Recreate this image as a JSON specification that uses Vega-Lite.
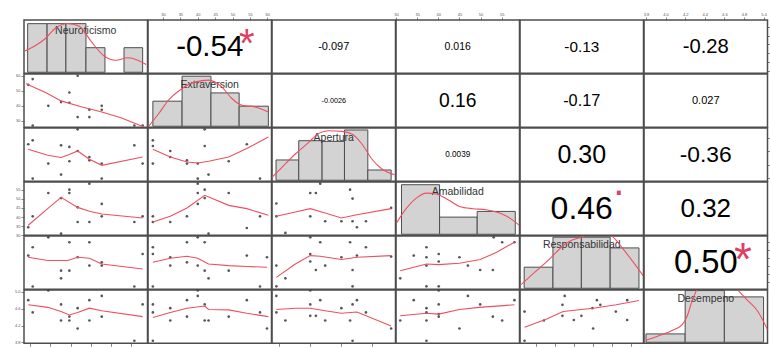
{
"$schema":"https://vega.github.io/schema/vega-lite/v6.json",
"background":"white",
"padding":{"left":13,"top":11,"right":0,"bottom":0},
"config":{"view":{"stroke":"#4d4d4d","strokeWidth":1.5},"axis":{"labelFontSize":4,"labelFont":"Liberation Sans","tickSize":3,"domain":false,"grid":false,"labelColor":"#555","tickColor":"#555","labelPadding":1,"tickWidth":0.7,"labelOverlap":false,"labelFlush":false},"text":{"font":"Liberation Sans"}},
"datasets":{
"pts":[
{"p":"21","x":21.3,"y":57.8},{"p":"21","x":19.1,"y":54.0},{"p":"21","x":43.5,"y":60.0},{"p":"21","x":29.0,"y":40.0},{"p":"21","x":35.3,"y":42.5},{"p":"21","x":39.4,"y":48.9},{"p":"21","x":39.4,"y":42.0},{"p":"21","x":43.5,"y":32.5},{"p":"21","x":49.3,"y":37.4},{"p":"21","x":49.3,"y":32.5},{"p":"21","x":55.4,"y":40.0},{"p":"21","x":55.4,"y":37.4},{"p":"21","x":21.3,"y":26.9},{"p":"21","x":71.5,"y":26.9},{"p":"21","x":75.6,"y":26.9},
{"p":"31","x":19.1,"y":55.3},{"p":"31","x":21.3,"y":58.2},{"p":"31","x":29.0,"y":40.9},{"p":"31","x":35.3,"y":54.5},{"p":"31","x":35.3,"y":32.7},{"p":"31","x":39.4,"y":53.3},{"p":"31","x":39.4,"y":42.6},{"p":"31","x":43.5,"y":66.4},{"p":"31","x":43.5,"y":50.3},{"p":"31","x":49.3,"y":45.8},{"p":"31","x":49.3,"y":43.3},{"p":"31","x":55.4,"y":40.9},{"p":"31","x":55.4,"y":29.7},{"p":"31","x":21.3,"y":29.7},{"p":"31","x":71.5,"y":54.5},{"p":"31","x":75.6,"y":40.9},
{"p":"32","x":27.1,"y":58.2},{"p":"32","x":27.1,"y":54.0},{"p":"32","x":27.1,"y":40.9},{"p":"32","x":32.1,"y":50.3},{"p":"32","x":32.1,"y":45.8},{"p":"32","x":36.9,"y":43.3},{"p":"32","x":36.9,"y":40.9},{"p":"32","x":40.0,"y":40.9},{"p":"32","x":42.0,"y":54.0},{"p":"32","x":40.0,"y":29.7},{"p":"32","x":43.1,"y":32.7},{"p":"32","x":48.9,"y":42.6},{"p":"32","x":54.1,"y":55.3},{"p":"32","x":57.9,"y":29.7},{"p":"32","x":42.0,"y":66.4},
{"p":"41","x":19.1,"y":34.4},{"p":"41","x":21.3,"y":40.4},{"p":"41","x":29.0,"y":53.2},{"p":"41","x":35.3,"y":30.9},{"p":"41","x":39.4,"y":55.0},{"p":"41","x":39.4,"y":53.2},{"p":"41","x":35.3,"y":50.4},{"p":"41","x":43.5,"y":45.3},{"p":"41","x":43.5,"y":37.3},{"p":"41","x":49.3,"y":37.3},{"p":"41","x":49.3,"y":58.3},{"p":"41","x":55.4,"y":47.2},{"p":"41","x":55.4,"y":40.4},{"p":"41","x":71.5,"y":37.3},{"p":"41","x":75.6,"y":40.4},
{"p":"42","x":27.1,"y":40.4},{"p":"42","x":27.1,"y":37.3},{"p":"42","x":32.1,"y":37.3},{"p":"42","x":36.9,"y":40.4},{"p":"42","x":40.0,"y":47.2},{"p":"42","x":40.0,"y":53.2},{"p":"42","x":42.0,"y":55.0},{"p":"42","x":42.0,"y":50.4},{"p":"42","x":43.1,"y":30.9},{"p":"42","x":48.9,"y":53.2},{"p":"42","x":54.1,"y":34.0},{"p":"42","x":57.9,"y":40.4},{"p":"42","x":40.0,"y":58.3},
{"p":"43","x":29.1,"y":47.4},{"p":"43","x":40.0,"y":53.2},{"p":"43","x":41.8,"y":53.2},{"p":"43","x":52.8,"y":55.0},{"p":"43","x":53.6,"y":50.1},{"p":"43","x":29.1,"y":40.4},{"p":"43","x":40.0,"y":40.4},{"p":"43","x":44.8,"y":37.7},{"p":"43","x":50.0,"y":37.7},{"p":"43","x":53.6,"y":37.7},{"p":"43","x":55.0,"y":34.4},{"p":"43","x":57.9,"y":37.7},{"p":"43","x":32.0,"y":31.3},{"p":"43","x":66.0,"y":45.0},{"p":"43","x":43.2,"y":58.3},
{"p":"51","x":29.0,"y":47.6},{"p":"51","x":21.3,"y":41.5},{"p":"51","x":19.1,"y":36.4},{"p":"51","x":39.4,"y":44.6},{"p":"51","x":49.3,"y":44.6},{"p":"51","x":43.5,"y":35.4},{"p":"51","x":49.3,"y":30.3},{"p":"51","x":35.3,"y":27.2},{"p":"51","x":39.4,"y":27.2},{"p":"51","x":35.3,"y":22.5},{"p":"51","x":55.4,"y":32.3},{"p":"51","x":55.4,"y":30.3},{"p":"51","x":75.6,"y":37.4},{"p":"51","x":21.3,"y":17.5},{"p":"51","x":71.5,"y":17.5},
{"p":"52","x":27.1,"y":41.5},{"p":"52","x":27.1,"y":37.4},{"p":"52","x":32.1,"y":35.4},{"p":"52","x":32.1,"y":30.3},{"p":"52","x":36.9,"y":44.6},{"p":"52","x":36.9,"y":32.3},{"p":"52","x":40.0,"y":47.6},{"p":"52","x":42.0,"y":44.6},{"p":"52","x":40.0,"y":30.3},{"p":"52","x":42.0,"y":27.2},{"p":"52","x":43.1,"y":22.5},{"p":"52","x":48.9,"y":27.2},{"p":"52","x":54.1,"y":36.4},{"p":"52","x":59.9,"y":35.4},{"p":"52","x":27.1,"y":17.5},{"p":"52","x":57.9,"y":17.5},
{"p":"53","x":29.1,"y":30.3},{"p":"53","x":32.0,"y":22.5},{"p":"53","x":40.0,"y":47.6},{"p":"53","x":40.0,"y":37.4},{"p":"53","x":40.0,"y":32.8},{"p":"53","x":41.8,"y":27.6},{"p":"53","x":43.2,"y":44.6},{"p":"53","x":44.8,"y":30.3},{"p":"53","x":50.0,"y":35.4},{"p":"53","x":52.8,"y":44.6},{"p":"53","x":53.6,"y":27.6},{"p":"53","x":55.0,"y":36.4},{"p":"53","x":57.9,"y":41.5},{"p":"53","x":66.0,"y":35.8},{"p":"53","x":29.1,"y":17.6},{"p":"53","x":53.6,"y":17.6},
{"p":"54","x":31.0,"y":22.5},{"p":"54","x":34.2,"y":36.4},{"p":"54","x":37.2,"y":41.5},{"p":"54","x":37.2,"y":35.4},{"p":"54","x":37.2,"y":30.3},{"p":"54","x":40.1,"y":37.4},{"p":"54","x":40.1,"y":32.8},{"p":"54","x":45.0,"y":35.4},{"p":"54","x":47.0,"y":30.3},{"p":"54","x":49.9,"y":27.6},{"p":"54","x":52.9,"y":27.6},{"p":"54","x":55.1,"y":44.6},{"p":"54","x":58.0,"y":44.6},{"p":"54","x":37.2,"y":17.6},{"p":"54","x":40.1,"y":17.6},{"p":"54","x":53.1,"y":47.6},
{"p":"61","x":19.1,"y":4.80},{"p":"61","x":21.3,"y":4.51},{"p":"61","x":29.0,"y":5.03},{"p":"61","x":35.3,"y":4.70},{"p":"61","x":35.3,"y":4.32},{"p":"61","x":39.4,"y":4.41},{"p":"61","x":39.4,"y":4.32},{"p":"61","x":43.5,"y":4.61},{"p":"61","x":43.5,"y":4.13},{"p":"61","x":49.3,"y":4.80},{"p":"61","x":49.3,"y":4.32},{"p":"61","x":55.4,"y":4.90},{"p":"61","x":55.4,"y":4.41},{"p":"61","x":71.5,"y":3.84},{"p":"61","x":75.6,"y":4.70},
{"p":"62","x":27.1,"y":4.70},{"p":"62","x":27.1,"y":4.51},{"p":"62","x":32.1,"y":4.61},{"p":"62","x":32.1,"y":4.32},{"p":"62","x":36.9,"y":4.41},{"p":"62","x":36.9,"y":4.80},{"p":"62","x":40.0,"y":5.03},{"p":"62","x":40.0,"y":4.90},{"p":"62","x":42.0,"y":4.70},{"p":"62","x":42.0,"y":4.32},{"p":"62","x":43.1,"y":4.32},{"p":"62","x":48.9,"y":4.41},{"p":"62","x":54.1,"y":4.80},{"p":"62","x":57.9,"y":4.51},{"p":"62","x":59.9,"y":4.13},{"p":"62","x":27.1,"y":3.84},
{"p":"63","x":29.1,"y":4.90},{"p":"63","x":29.1,"y":4.51},{"p":"63","x":32.0,"y":4.32},{"p":"63","x":40.0,"y":5.03},{"p":"63","x":40.0,"y":4.70},{"p":"63","x":40.0,"y":4.43},{"p":"63","x":41.8,"y":4.43},{"p":"63","x":43.2,"y":4.80},{"p":"63","x":44.8,"y":4.32},{"p":"63","x":50.0,"y":4.61},{"p":"63","x":52.8,"y":4.32},{"p":"63","x":53.6,"y":4.70},{"p":"63","x":55.0,"y":4.80},{"p":"63","x":57.9,"y":4.51},{"p":"63","x":66.0,"y":4.13},{"p":"63","x":53.6,"y":3.84},
{"p":"64","x":31.0,"y":4.32},{"p":"64","x":34.2,"y":4.80},{"p":"64","x":37.2,"y":4.61},{"p":"64","x":37.2,"y":4.51},{"p":"64","x":37.2,"y":4.32},{"p":"64","x":40.1,"y":4.70},{"p":"64","x":40.1,"y":4.41},{"p":"64","x":40.1,"y":4.47},{"p":"64","x":45.0,"y":4.13},{"p":"64","x":47.0,"y":4.90},{"p":"64","x":49.9,"y":4.70},{"p":"64","x":52.9,"y":4.41},{"p":"64","x":55.1,"y":4.32},{"p":"64","x":58.0,"y":4.80},{"p":"64","x":37.2,"y":3.84},{"p":"64","x":40.1,"y":5.03},
{"p":"65","x":17.0,"y":4.53},{"p":"65","x":22.1,"y":4.32},{"p":"65","x":27.0,"y":4.69},{"p":"65","x":27.0,"y":4.43},{"p":"65","x":27.6,"y":4.90},{"p":"65","x":30.0,"y":4.33},{"p":"65","x":32.0,"y":4.43},{"p":"65","x":34.9,"y":4.61},{"p":"65","x":35.1,"y":4.13},{"p":"65","x":36.1,"y":4.80},{"p":"65","x":37.0,"y":4.69},{"p":"65","x":41.1,"y":4.53},{"p":"65","x":44.1,"y":4.80},{"p":"65","x":44.1,"y":4.33},{"p":"65","x":17.0,"y":3.84}
],
"sm":[
{"p":"21","x":18,"y":54.7},{"p":"21","x":27.9,"y":48.7},{"p":"21","x":35.3,"y":43.3},{"p":"21","x":45.2,"y":39.4},{"p":"21","x":55.0,"y":36.0},{"p":"21","x":64.9,"y":32.0},{"p":"21","x":76,"y":26.0},
{"p":"31","x":19.1,"y":51.5},{"p":"31","x":28.7,"y":47.1},{"p":"31","x":35.3,"y":45.4},{"p":"31","x":39.4,"y":47.6},{"p":"31","x":43.5,"y":50.3},{"p":"31","x":49.3,"y":44.1},{"p":"31","x":55.4,"y":39.6},{"p":"31","x":75.6,"y":45.8},
{"p":"32","x":27.1,"y":51.5},{"p":"32","x":32.1,"y":45.8},{"p":"32","x":36.9,"y":42.1},{"p":"32","x":40.0,"y":41.3},{"p":"32","x":43.1,"y":42.6},{"p":"32","x":48.9,"y":45.8},{"p":"32","x":54.1,"y":52.1},{"p":"32","x":60.3,"y":60.7},
{"p":"41","x":19.1,"y":35.5},{"p":"41","x":28.7,"y":44.6},{"p":"41","x":35.3,"y":50.8},{"p":"41","x":43.5,"y":45.3},{"p":"41","x":49.3,"y":43.2},{"p":"41","x":55.4,"y":41.7},{"p":"41","x":75.6,"y":39.5},
{"p":"42","x":27.1,"y":37.3},{"p":"42","x":32.1,"y":40.4},{"p":"42","x":36.9,"y":45.0},{"p":"42","x":42.0,"y":51.9},{"p":"42","x":48.9,"y":46.4},{"p":"42","x":54.1,"y":44.6},{"p":"42","x":60.3,"y":41.0},
{"p":"43","x":29.1,"y":40.4},{"p":"43","x":35.2,"y":42.8},{"p":"43","x":40.0,"y":44.6},{"p":"43","x":44.8,"y":42.2},{"p":"43","x":50.0,"y":39.5},{"p":"43","x":55.0,"y":41.3},{"p":"43","x":66.0,"y":44.6},
{"p":"51","x":19.1,"y":35.4},{"p":"51","x":28.7,"y":33.4},{"p":"51","x":38.6,"y":33.4},{"p":"51","x":43.5,"y":35.4},{"p":"51","x":49.3,"y":34.8},{"p":"51","x":55.4,"y":31.3},{"p":"51","x":75.6,"y":28.2},
{"p":"52","x":27.1,"y":32.3},{"p":"52","x":32.1,"y":34.8},{"p":"52","x":36.9,"y":36.0},{"p":"52","x":40.0,"y":34.8},{"p":"52","x":43.1,"y":31.3},{"p":"52","x":48.9,"y":30.3},{"p":"52","x":54.1,"y":29.7},{"p":"52","x":59.9,"y":29.3},
{"p":"53","x":29.1,"y":23.1},{"p":"53","x":35.2,"y":31.3},{"p":"53","x":40.0,"y":36.4},{"p":"53","x":43.2,"y":36.0},{"p":"53","x":50.0,"y":34.0},{"p":"53","x":55.0,"y":35.4},{"p":"53","x":66.0,"y":36.4},
{"p":"54","x":31.0,"y":27.2},{"p":"54","x":37.2,"y":31.3},{"p":"54","x":40.1,"y":30.9},{"p":"54","x":45.0,"y":31.7},{"p":"54","x":49.9,"y":34.0},{"p":"54","x":53.8,"y":38.4},{"p":"54","x":58.0,"y":44.6},
{"p":"61","x":19.1,"y":4.69},{"p":"61","x":28.7,"y":4.63},{"p":"61","x":35.3,"y":4.53},{"p":"61","x":39.4,"y":4.45},{"p":"61","x":43.5,"y":4.51},{"p":"61","x":49.3,"y":4.61},{"p":"61","x":55.4,"y":4.55},{"p":"61","x":75.6,"y":4.41},
{"p":"62","x":27.1,"y":4.39},{"p":"62","x":32.1,"y":4.51},{"p":"62","x":36.9,"y":4.61},{"p":"62","x":42.0,"y":4.66},{"p":"62","x":43.1,"y":4.58},{"p":"62","x":48.9,"y":4.57},{"p":"62","x":54.1,"y":4.49},{"p":"62","x":60.3,"y":4.41},
{"p":"63","x":29.1,"y":4.58},{"p":"63","x":35.2,"y":4.61},{"p":"63","x":40.0,"y":4.61},{"p":"63","x":44.8,"y":4.55},{"p":"63","x":50.0,"y":4.49},{"p":"63","x":55.0,"y":4.52},{"p":"63","x":66.0,"y":4.19},
{"p":"64","x":31.0,"y":4.43},{"p":"64","x":37.2,"y":4.49},{"p":"64","x":40.1,"y":4.47},{"p":"64","x":45.0,"y":4.58},{"p":"64","x":49.7,"y":4.63},{"p":"64","x":58.0,"y":4.69},
{"p":"65","x":17.0,"y":4.16},{"p":"65","x":22.7,"y":4.35},{"p":"65","x":27.2,"y":4.53},{"p":"65","x":35.1,"y":4.61},{"p":"65","x":41.2,"y":4.69},{"p":"65","x":47.2,"y":4.79}
],
"bars":[
{"p":"11","x":18.8,"x2":28.4,"y":0.93},{"p":"11","x":28.4,"x2":37.7,"y":0.93},{"p":"11","x":37.7,"x2":47.6,"y":0.93},{"p":"11","x":47.6,"x2":57.0,"y":0.47},{"p":"11","x":66.4,"x2":75.6,"y":0.47},
{"p":"22","x":27.1,"x2":35.5,"y":0.48},{"p":"22","x":35.5,"x2":43.8,"y":0.958},{"p":"22","x":43.8,"x2":51.9,"y":0.638},{"p":"22","x":51.9,"x2":60.3,"y":0.384},
{"p":"33","x":29.0,"x2":36.3,"y":0.388},{"p":"33","x":36.3,"x2":43.8,"y":0.757},{"p":"33","x":43.8,"x2":51.0,"y":0.744},{"p":"33","x":51.0,"x2":58.5,"y":0.962},{"p":"33","x":58.5,"x2":66.0,"y":0.196},
{"p":"44","x":31.3,"x2":40.3,"y":0.948},{"p":"44","x":40.3,"x2":49.2,"y":0.328},{"p":"44","x":49.2,"x2":58.2,"y":0.437},
{"p":"55","x":16.9,"x2":24.5,"y":0.403},{"p":"55","x":24.5,"x2":32.0,"y":0.977},{"p":"55","x":32.0,"x2":39.6,"y":0.977},{"p":"55","x":39.6,"x2":47.2,"y":0.772},
{"p":"66","x":3.8,"x2":4.2,"y":0.16},{"p":"66","x":4.2,"x2":4.6,"y":0.989},{"p":"66","x":4.6,"x2":5.0,"y":0.868}
],
"dens":[
{"p":"11","x":17,"y":0.40},{"p":"11","x":22.1,"y":0.499},{"p":"11","x":27.0,"y":0.627},{"p":"11","x":32.8,"y":0.851},{"p":"11","x":38.6,"y":0.933},{"p":"11","x":44.3,"y":0.881},{"p":"11","x":50.1,"y":0.594},{"p":"11","x":56.7,"y":0.307},{"p":"11","x":62.4,"y":0.231},{"p":"11","x":68.2,"y":0.277},{"p":"11","x":73.2,"y":0.231},{"p":"11","x":77.3,"y":0.148},
{"p":"22","x":25.9,"y":0.0},{"p":"22","x":28.8,"y":0.244},{"p":"22","x":31.6,"y":0.499},{"p":"22","x":35.5,"y":0.723},{"p":"22","x":39.3,"y":0.849},{"p":"22","x":43.1,"y":0.882},{"p":"22","x":46.9,"y":0.754},{"p":"22","x":49.8,"y":0.531},{"p":"22","x":52.7,"y":0.403},{"p":"22","x":56.5,"y":0.37},{"p":"22","x":60.3,"y":0.275},
{"p":"33","x":27.7,"y":0.055},{"p":"33","x":30.9,"y":0.246},{"p":"33","x":35.2,"y":0.502},{"p":"33","x":39.5,"y":0.725},{"p":"33","x":42.7,"y":0.897},{"p":"33","x":45.9,"y":0.948},{"p":"33","x":50.2,"y":0.935},{"p":"33","x":53.4,"y":0.885},{"p":"33","x":56.6,"y":0.694},{"p":"33","x":59.8,"y":0.407},{"p":"33","x":63.0,"y":0.215},{"p":"33","x":67.1,"y":0.106},
{"p":"44","x":30.1,"y":0.213},{"p":"44","x":32.4,"y":0.489},{"p":"44","x":34.8,"y":0.692},{"p":"44","x":37.2,"y":0.788},{"p":"44","x":39.5,"y":0.769},{"p":"44","x":42.3,"y":0.661},{"p":"44","x":45.0,"y":0.533},{"p":"44","x":48.2,"y":0.489},{"p":"44","x":51.3,"y":0.47},{"p":"44","x":54.5,"y":0.405},{"p":"44","x":56.9,"y":0.309},{"p":"44","x":59.2,"y":0.169},
{"p":"55","x":16.1,"y":0.072},{"p":"55","x":19.2,"y":0.275},{"p":"55","x":22.7,"y":0.499},{"p":"55","x":25.4,"y":0.69},{"p":"55","x":27.2,"y":0.818},{"p":"55","x":29.3,"y":0.914},{"p":"55","x":32.0,"y":0.977},{"p":"55","x":36.1,"y":1.12},{"p":"55","x":40.4,"y":0.977},{"p":"55","x":43.0,"y":0.753},{"p":"55","x":45.7,"y":0.499},{"p":"55","x":48.4,"y":0.231},
{"p":"66","x":3.80,"y":0.039},{"p":"66","x":3.92,"y":0.116},{"p":"66","x":4.05,"y":0.212},{"p":"66","x":4.17,"y":0.338},{"p":"66","x":4.22,"y":0.499},{"p":"66","x":4.27,"y":0.786},{"p":"66","x":4.32,"y":1.008},{"p":"66","x":4.51,"y":1.35},{"p":"66","x":4.73,"y":1.008},{"p":"66","x":4.83,"y":0.816},{"p":"66","x":4.94,"y":0.594},{"p":"66","x":5.04,"y":0.242}
],
"names":[
{"p":"11","x":47.5,"y":0.78,"name":"Neuroticismo"},{"p":"22","x":43.45,"y":0.79,"name":"Extraversion"},{"p":"33","x":47.55,"y":0.815,"name":"Apertura"},{"p":"44","x":44.6,"y":0.80,"name":"Amabilidad"},{"p":"55","x":32.1,"y":0.825,"name":"Responsabilidad"},{"p":"66","x":4.41,"y":0.825,"name":"Desempeno"}
],
"cors":[
{"p":"12","x":43.45,"y":47.5,"label":"-0.54"},{"p":"13","x":47.55,"y":47.5,"label":"-0.097"},{"p":"14","x":44.6,"y":47.5,"label":"0.016"},{"p":"15","x":32.1,"y":47.5,"label":"-0.13"},{"p":"16","x":4.41,"y":47.5,"label":"-0.28"},
{"p":"23","x":47.55,"y":43.45,"label":"-0.0026"},{"p":"24","x":44.6,"y":43.45,"label":"0.16"},{"p":"25","x":32.1,"y":43.45,"label":"-0.17"},{"p":"26","x":4.41,"y":43.45,"label":"0.027"},
{"p":"34","x":44.6,"y":47.55,"label":"0.0039"},{"p":"35","x":32.1,"y":47.55,"label":"0.30"},{"p":"36","x":4.41,"y":47.55,"label":"-0.36"},
{"p":"45","x":32.1,"y":44.6,"label":"0.46"},{"p":"46","x":4.41,"y":44.6,"label":"0.32"},
{"p":"56","x":4.41,"y":32.1,"label":"0.50"}
],
"stars":[
{"p":"12","x":54.1,"y":49.0,"sig":"*"},{"p":"45","x":41.9,"y":58.9,"sig":"."},{"p":"56","x":4.79,"y":32.9,"sig":"*"}
]
},
"columns":6,
"spacing":0,
"bounds":"flush",
"resolve":{"scale":{"x":"independent","y":"independent"}},
"concat":[
{"width":123.5,"height":53.3,"encoding":{"x":{"field":"x","type":"quantitative","scale":{"domain":[17,78],"nice":false,"zero":false},"axis":null},"y":{"field":"y","type":"quantitative","scale":{"domain":[-0.02,1],"nice":false,"zero":false},"axis":null}},
 "layer":[
 {"data":{"name":"bars"},"transform":[{"filter":"datum.p=='11'"}],"mark":{"type":"rect","fill":"#d3d3d3","stroke":"#4d4d4d","strokeWidth":1},"encoding":{"x2":{"field":"x2"},"y2":{"datum":0}}},
 {"data":{"name":"names"},"transform":[{"filter":"datum.p=='11'"}],"mark":{"type":"text","fontSize":10.5,"color":"#333"},"encoding":{"text":{"field":"name"}}},
 {"data":{"name":"dens"},"transform":[{"filter":"datum.p=='11'"}],"mark":{"type":"line","color":"#ef4f61","strokeWidth":1.1,"interpolate":"monotone","clip":true},"encoding":{}}
 ]},
{"width":123.5,"height":53.3,"encoding":{"x":{"field":"x","type":"quantitative","scale":{"domain":[25.7,61.2],"nice":false,"zero":false},"axis":{"orient":"top","values":[30,35,40,45,50,55,60],"title":null}},"y":{"field":"y","type":"quantitative","scale":{"domain":[17,78],"nice":false,"zero":false},"axis":null}},
 "layer":[
 {"data":{"name":"cors"},"transform":[{"filter":"datum.p=='12'"}],"mark":{"type":"text","fontSize":29.5,"color":"#000"},"encoding":{"text":{"field":"label"}}},
 {"data":{"name":"stars"},"transform":[{"filter":"datum.p=='12'"}],"mark":{"type":"text","fontSize":40,"color":"#e0405f"},"encoding":{"text":{"field":"sig"}}}
 ]},
{"width":123.5,"height":53.3,"encoding":{"x":{"field":"x","type":"quantitative","scale":{"domain":[27.7,67.4],"nice":false,"zero":false},"axis":null},"y":{"field":"y","type":"quantitative","scale":{"domain":[17,78],"nice":false,"zero":false},"axis":null}},
 "layer":[
 {"data":{"name":"cors"},"transform":[{"filter":"datum.p=='13'"}],"mark":{"type":"text","fontSize":11,"color":"#000"},"encoding":{"text":{"field":"label"}}}
 ]},
{"width":123.5,"height":53.3,"encoding":{"x":{"field":"x","type":"quantitative","scale":{"domain":[30,59.2],"nice":false,"zero":false},"axis":{"orient":"top","values":[30,35,40,45,50,55],"title":null}},"y":{"field":"y","type":"quantitative","scale":{"domain":[17,78],"nice":false,"zero":false},"axis":null}},
 "layer":[
 {"data":{"name":"cors"},"transform":[{"filter":"datum.p=='14'"}],"mark":{"type":"text","fontSize":10.5,"color":"#000"},"encoding":{"text":{"field":"label"}}}
 ]},
{"width":123.5,"height":53.3,"encoding":{"x":{"field":"x","type":"quantitative","scale":{"domain":[15.8,48.4],"nice":false,"zero":false},"axis":null},"y":{"field":"y","type":"quantitative","scale":{"domain":[17,78],"nice":false,"zero":false},"axis":null}},
 "layer":[
 {"data":{"name":"cors"},"transform":[{"filter":"datum.p=='15'"}],"mark":{"type":"text","fontSize":15.3,"color":"#000"},"encoding":{"text":{"field":"label"}}}
 ]},
{"width":123.5,"height":53.3,"encoding":{"x":{"field":"x","type":"quantitative","scale":{"domain":[3.78,5.04],"nice":false,"zero":false},"axis":{"orient":"top","values":[3.8,4.0,4.2,4.4,4.6,4.8,5.0],"format":".1f","title":null}},"y":{"field":"y","type":"quantitative","scale":{"domain":[17,78],"nice":false,"zero":false},"axis":{"orient":"right","values":[20,30,40,50,60,70],"title":null}}},
 "layer":[
 {"data":{"name":"cors"},"transform":[{"filter":"datum.p=='16'"}],"mark":{"type":"text","fontSize":20.2,"color":"#000"},"encoding":{"text":{"field":"label"}}}
 ]},

{"width":123.5,"height":53.3,"encoding":{"x":{"field":"x","type":"quantitative","scale":{"domain":[17,78],"nice":false,"zero":false},"axis":null},"y":{"field":"y","type":"quantitative","scale":{"domain":[25.7,61.2],"nice":false,"zero":false},"axis":{"orient":"left","values":[30,40,50,60],"title":null}}},
 "layer":[
 {"data":{"name":"pts"},"transform":[{"filter":"datum.p=='21'"}],"mark":{"type":"circle","size":7,"color":"#444","opacity":0.9}},
 {"data":{"name":"sm"},"transform":[{"filter":"datum.p=='21'"}],"mark":{"type":"line","color":"#ef4f61","strokeWidth":1.1,"clip":true},"encoding":{}}
 ]},
{"width":123.5,"height":53.3,"encoding":{"x":{"field":"x","type":"quantitative","scale":{"domain":[25.7,61.2],"nice":false,"zero":false},"axis":null},"y":{"field":"y","type":"quantitative","scale":{"domain":[-0.02,1],"nice":false,"zero":false},"axis":null}},
 "layer":[
 {"data":{"name":"bars"},"transform":[{"filter":"datum.p=='22'"}],"mark":{"type":"rect","fill":"#d3d3d3","stroke":"#4d4d4d","strokeWidth":1},"encoding":{"x2":{"field":"x2"},"y2":{"datum":0}}},
 {"data":{"name":"names"},"transform":[{"filter":"datum.p=='22'"}],"mark":{"type":"text","fontSize":10.5,"color":"#333"},"encoding":{"text":{"field":"name"}}},
 {"data":{"name":"dens"},"transform":[{"filter":"datum.p=='22'"}],"mark":{"type":"line","color":"#ef4f61","strokeWidth":1.1,"interpolate":"monotone","clip":true},"encoding":{}}
 ]},
{"width":123.5,"height":53.3,"encoding":{"x":{"field":"x","type":"quantitative","scale":{"domain":[27.7,67.4],"nice":false,"zero":false},"axis":null},"y":{"field":"y","type":"quantitative","scale":{"domain":[25.7,61.2],"nice":false,"zero":false},"axis":null}},
 "layer":[
 {"data":{"name":"cors"},"transform":[{"filter":"datum.p=='23'"}],"mark":{"type":"text","fontSize":7.2,"color":"#000"},"encoding":{"text":{"field":"label"}}}
 ]},
{"width":123.5,"height":53.3,"encoding":{"x":{"field":"x","type":"quantitative","scale":{"domain":[30,59.2],"nice":false,"zero":false},"axis":null},"y":{"field":"y","type":"quantitative","scale":{"domain":[25.7,61.2],"nice":false,"zero":false},"axis":null}},
 "layer":[
 {"data":{"name":"cors"},"transform":[{"filter":"datum.p=='24'"}],"mark":{"type":"text","fontSize":19.3,"color":"#000"},"encoding":{"text":{"field":"label"}}}
 ]},
{"width":123.5,"height":53.3,"encoding":{"x":{"field":"x","type":"quantitative","scale":{"domain":[15.8,48.4],"nice":false,"zero":false},"axis":null},"y":{"field":"y","type":"quantitative","scale":{"domain":[25.7,61.2],"nice":false,"zero":false},"axis":null}},
 "layer":[
 {"data":{"name":"cors"},"transform":[{"filter":"datum.p=='25'"}],"mark":{"type":"text","fontSize":16.3,"color":"#000"},"encoding":{"text":{"field":"label"}}}
 ]},
{"width":123.5,"height":53.3,"encoding":{"x":{"field":"x","type":"quantitative","scale":{"domain":[3.78,5.04],"nice":false,"zero":false},"axis":null},"y":{"field":"y","type":"quantitative","scale":{"domain":[25.7,61.2],"nice":false,"zero":false},"axis":null}},
 "layer":[
 {"data":{"name":"cors"},"transform":[{"filter":"datum.p=='26'"}],"mark":{"type":"text","fontSize":11,"color":"#000"},"encoding":{"text":{"field":"label"}}}
 ]},

{"width":123.5,"height":53.3,"encoding":{"x":{"field":"x","type":"quantitative","scale":{"domain":[17,78],"nice":false,"zero":false},"axis":null},"y":{"field":"y","type":"quantitative","scale":{"domain":[27.7,67.4],"nice":false,"zero":false},"axis":null}},
 "layer":[
 {"data":{"name":"pts"},"transform":[{"filter":"datum.p=='31'"}],"mark":{"type":"circle","size":7,"color":"#444","opacity":0.9}},
 {"data":{"name":"sm"},"transform":[{"filter":"datum.p=='31'"}],"mark":{"type":"line","color":"#ef4f61","strokeWidth":1.1,"clip":true},"encoding":{}}
 ]},
{"width":123.5,"height":53.3,"encoding":{"x":{"field":"x","type":"quantitative","scale":{"domain":[25.7,61.2],"nice":false,"zero":false},"axis":null},"y":{"field":"y","type":"quantitative","scale":{"domain":[27.7,67.4],"nice":false,"zero":false},"axis":null}},
 "layer":[
 {"data":{"name":"pts"},"transform":[{"filter":"datum.p=='32'"}],"mark":{"type":"circle","size":7,"color":"#444","opacity":0.9}},
 {"data":{"name":"sm"},"transform":[{"filter":"datum.p=='32'"}],"mark":{"type":"line","color":"#ef4f61","strokeWidth":1.1,"clip":true},"encoding":{}}
 ]},
{"width":123.5,"height":53.3,"encoding":{"x":{"field":"x","type":"quantitative","scale":{"domain":[27.7,67.4],"nice":false,"zero":false},"axis":null},"y":{"field":"y","type":"quantitative","scale":{"domain":[-0.02,1],"nice":false,"zero":false},"axis":null}},
 "layer":[
 {"data":{"name":"bars"},"transform":[{"filter":"datum.p=='33'"}],"mark":{"type":"rect","fill":"#d3d3d3","stroke":"#4d4d4d","strokeWidth":1},"encoding":{"x2":{"field":"x2"},"y2":{"datum":0}}},
 {"data":{"name":"names"},"transform":[{"filter":"datum.p=='33'"}],"mark":{"type":"text","fontSize":10.5,"color":"#333"},"encoding":{"text":{"field":"name"}}},
 {"data":{"name":"dens"},"transform":[{"filter":"datum.p=='33'"}],"mark":{"type":"line","color":"#ef4f61","strokeWidth":1.1,"interpolate":"monotone","clip":true},"encoding":{}}
 ]},
{"width":123.5,"height":53.3,"encoding":{"x":{"field":"x","type":"quantitative","scale":{"domain":[30,59.2],"nice":false,"zero":false},"axis":null},"y":{"field":"y","type":"quantitative","scale":{"domain":[27.7,67.4],"nice":false,"zero":false},"axis":null}},
 "layer":[
 {"data":{"name":"cors"},"transform":[{"filter":"datum.p=='34'"}],"mark":{"type":"text","fontSize":8.2,"color":"#000"},"encoding":{"text":{"field":"label"}}}
 ]},
{"width":123.5,"height":53.3,"encoding":{"x":{"field":"x","type":"quantitative","scale":{"domain":[15.8,48.4],"nice":false,"zero":false},"axis":null},"y":{"field":"y","type":"quantitative","scale":{"domain":[27.7,67.4],"nice":false,"zero":false},"axis":null}},
 "layer":[
 {"data":{"name":"cors"},"transform":[{"filter":"datum.p=='35'"}],"mark":{"type":"text","fontSize":25,"color":"#000"},"encoding":{"text":{"field":"label"}}}
 ]},
{"width":123.5,"height":53.3,"encoding":{"x":{"field":"x","type":"quantitative","scale":{"domain":[3.78,5.04],"nice":false,"zero":false},"axis":null},"y":{"field":"y","type":"quantitative","scale":{"domain":[27.7,67.4],"nice":false,"zero":false},"axis":{"orient":"right","values":[30,40,50,60],"title":null}}},
 "layer":[
 {"data":{"name":"cors"},"transform":[{"filter":"datum.p=='36'"}],"mark":{"type":"text","fontSize":22.8,"color":"#000"},"encoding":{"text":{"field":"label"}}}
 ]},

{"width":123.5,"height":53.3,"encoding":{"x":{"field":"x","type":"quantitative","scale":{"domain":[17,78],"nice":false,"zero":false},"axis":null},"y":{"field":"y","type":"quantitative","scale":{"domain":[30,59.2],"nice":false,"zero":false},"axis":{"orient":"left","values":[30,35,40,45,50,55],"title":null}}},
 "layer":[
 {"data":{"name":"pts"},"transform":[{"filter":"datum.p=='41'"}],"mark":{"type":"circle","size":7,"color":"#444","opacity":0.9}},
 {"data":{"name":"sm"},"transform":[{"filter":"datum.p=='41'"}],"mark":{"type":"line","color":"#ef4f61","strokeWidth":1.1,"clip":true},"encoding":{}}
 ]},
{"width":123.5,"height":53.3,"encoding":{"x":{"field":"x","type":"quantitative","scale":{"domain":[25.7,61.2],"nice":false,"zero":false},"axis":null},"y":{"field":"y","type":"quantitative","scale":{"domain":[30,59.2],"nice":false,"zero":false},"axis":null}},
 "layer":[
 {"data":{"name":"pts"},"transform":[{"filter":"datum.p=='42'"}],"mark":{"type":"circle","size":7,"color":"#444","opacity":0.9}},
 {"data":{"name":"sm"},"transform":[{"filter":"datum.p=='42'"}],"mark":{"type":"line","color":"#ef4f61","strokeWidth":1.1,"clip":true},"encoding":{}}
 ]},
{"width":123.5,"height":53.3,"encoding":{"x":{"field":"x","type":"quantitative","scale":{"domain":[27.7,67.4],"nice":false,"zero":false},"axis":null},"y":{"field":"y","type":"quantitative","scale":{"domain":[30,59.2],"nice":false,"zero":false},"axis":null}},
 "layer":[
 {"data":{"name":"pts"},"transform":[{"filter":"datum.p=='43'"}],"mark":{"type":"circle","size":7,"color":"#444","opacity":0.9}},
 {"data":{"name":"sm"},"transform":[{"filter":"datum.p=='43'"}],"mark":{"type":"line","color":"#ef4f61","strokeWidth":1.1,"clip":true},"encoding":{}}
 ]},
{"width":123.5,"height":53.3,"encoding":{"x":{"field":"x","type":"quantitative","scale":{"domain":[30,59.2],"nice":false,"zero":false},"axis":null},"y":{"field":"y","type":"quantitative","scale":{"domain":[-0.02,1],"nice":false,"zero":false},"axis":null}},
 "layer":[
 {"data":{"name":"bars"},"transform":[{"filter":"datum.p=='44'"}],"mark":{"type":"rect","fill":"#d3d3d3","stroke":"#4d4d4d","strokeWidth":1},"encoding":{"x2":{"field":"x2"},"y2":{"datum":0}}},
 {"data":{"name":"names"},"transform":[{"filter":"datum.p=='44'"}],"mark":{"type":"text","fontSize":10.5,"color":"#333"},"encoding":{"text":{"field":"name"}}},
 {"data":{"name":"dens"},"transform":[{"filter":"datum.p=='44'"}],"mark":{"type":"line","color":"#ef4f61","strokeWidth":1.1,"interpolate":"monotone","clip":true},"encoding":{}}
 ]},
{"width":123.5,"height":53.3,"encoding":{"x":{"field":"x","type":"quantitative","scale":{"domain":[15.8,48.4],"nice":false,"zero":false},"axis":null},"y":{"field":"y","type":"quantitative","scale":{"domain":[30,59.2],"nice":false,"zero":false},"axis":null}},
 "layer":[
 {"data":{"name":"cors"},"transform":[{"filter":"datum.p=='45'"}],"mark":{"type":"text","fontSize":32,"color":"#000"},"encoding":{"text":{"field":"label"}}},
 {"data":{"name":"stars"},"transform":[{"filter":"datum.p=='45'"}],"mark":{"type":"text","fontSize":40,"color":"#e0405f"},"encoding":{"text":{"field":"sig"}}}
 ]},
{"width":123.5,"height":53.3,"encoding":{"x":{"field":"x","type":"quantitative","scale":{"domain":[3.78,5.04],"nice":false,"zero":false},"axis":null},"y":{"field":"y","type":"quantitative","scale":{"domain":[30,59.2],"nice":false,"zero":false},"axis":null}},
 "layer":[
 {"data":{"name":"cors"},"transform":[{"filter":"datum.p=='46'"}],"mark":{"type":"text","fontSize":26,"color":"#000"},"encoding":{"text":{"field":"label"}}}
 ]},

{"width":123.5,"height":53.3,"encoding":{"x":{"field":"x","type":"quantitative","scale":{"domain":[17,78],"nice":false,"zero":false},"axis":null},"y":{"field":"y","type":"quantitative","scale":{"domain":[15.8,48.4],"nice":false,"zero":false},"axis":null}},
 "layer":[
 {"data":{"name":"pts"},"transform":[{"filter":"datum.p=='51'"}],"mark":{"type":"circle","size":7,"color":"#444","opacity":0.9}},
 {"data":{"name":"sm"},"transform":[{"filter":"datum.p=='51'"}],"mark":{"type":"line","color":"#ef4f61","strokeWidth":1.1,"clip":true},"encoding":{}}
 ]},
{"width":123.5,"height":53.3,"encoding":{"x":{"field":"x","type":"quantitative","scale":{"domain":[25.7,61.2],"nice":false,"zero":false},"axis":null},"y":{"field":"y","type":"quantitative","scale":{"domain":[15.8,48.4],"nice":false,"zero":false},"axis":null}},
 "layer":[
 {"data":{"name":"pts"},"transform":[{"filter":"datum.p=='52'"}],"mark":{"type":"circle","size":7,"color":"#444","opacity":0.9}},
 {"data":{"name":"sm"},"transform":[{"filter":"datum.p=='52'"}],"mark":{"type":"line","color":"#ef4f61","strokeWidth":1.1,"clip":true},"encoding":{}}
 ]},
{"width":123.5,"height":53.3,"encoding":{"x":{"field":"x","type":"quantitative","scale":{"domain":[27.7,67.4],"nice":false,"zero":false},"axis":null},"y":{"field":"y","type":"quantitative","scale":{"domain":[15.8,48.4],"nice":false,"zero":false},"axis":null}},
 "layer":[
 {"data":{"name":"pts"},"transform":[{"filter":"datum.p=='53'"}],"mark":{"type":"circle","size":7,"color":"#444","opacity":0.9}},
 {"data":{"name":"sm"},"transform":[{"filter":"datum.p=='53'"}],"mark":{"type":"line","color":"#ef4f61","strokeWidth":1.1,"clip":true},"encoding":{}}
 ]},
{"width":123.5,"height":53.3,"encoding":{"x":{"field":"x","type":"quantitative","scale":{"domain":[30,59.2],"nice":false,"zero":false},"axis":null},"y":{"field":"y","type":"quantitative","scale":{"domain":[15.8,48.4],"nice":false,"zero":false},"axis":null}},
 "layer":[
 {"data":{"name":"pts"},"transform":[{"filter":"datum.p=='54'"}],"mark":{"type":"circle","size":7,"color":"#444","opacity":0.9}},
 {"data":{"name":"sm"},"transform":[{"filter":"datum.p=='54'"}],"mark":{"type":"line","color":"#ef4f61","strokeWidth":1.1,"clip":true},"encoding":{}}
 ]},
{"width":123.5,"height":53.3,"encoding":{"x":{"field":"x","type":"quantitative","scale":{"domain":[15.8,48.4],"nice":false,"zero":false},"axis":null},"y":{"field":"y","type":"quantitative","scale":{"domain":[-0.02,1],"nice":false,"zero":false},"axis":null}},
 "layer":[
 {"data":{"name":"bars"},"transform":[{"filter":"datum.p=='55'"}],"mark":{"type":"rect","fill":"#d3d3d3","stroke":"#4d4d4d","strokeWidth":1},"encoding":{"x2":{"field":"x2"},"y2":{"datum":0}}},
 {"data":{"name":"names"},"transform":[{"filter":"datum.p=='55'"}],"mark":{"type":"text","fontSize":10.5,"color":"#333"},"encoding":{"text":{"field":"name"}}},
 {"data":{"name":"dens"},"transform":[{"filter":"datum.p=='55'"}],"mark":{"type":"line","color":"#ef4f61","strokeWidth":1.1,"interpolate":"monotone","clip":true},"encoding":{}}
 ]},
{"width":123.5,"height":53.3,"encoding":{"x":{"field":"x","type":"quantitative","scale":{"domain":[3.78,5.04],"nice":false,"zero":false},"axis":null},"y":{"field":"y","type":"quantitative","scale":{"domain":[15.8,48.4],"nice":false,"zero":false},"axis":{"orient":"right","values":[20,25,30,35,40,45],"title":null}}},
 "layer":[
 {"data":{"name":"cors"},"transform":[{"filter":"datum.p=='56'"}],"mark":{"type":"text","fontSize":32.7,"color":"#000"},"encoding":{"text":{"field":"label"}}},
 {"data":{"name":"stars"},"transform":[{"filter":"datum.p=='56'"}],"mark":{"type":"text","fontSize":46,"color":"#e0405f"},"encoding":{"text":{"field":"sig"}}}
 ]},

{"width":123.5,"height":53.3,"encoding":{"x":{"field":"x","type":"quantitative","scale":{"domain":[17,78],"nice":false,"zero":false},"axis":{"orient":"bottom","values":[20,30,40,50,60,70],"title":null}},"y":{"field":"y","type":"quantitative","scale":{"domain":[3.78,5.04],"nice":false,"zero":false},"axis":{"orient":"left","values":[3.8,4.2,4.6,5.0],"format":".1f","title":null}}},
 "layer":[
 {"data":{"name":"pts"},"transform":[{"filter":"datum.p=='61'"}],"mark":{"type":"circle","size":7,"color":"#444","opacity":0.9}},
 {"data":{"name":"sm"},"transform":[{"filter":"datum.p=='61'"}],"mark":{"type":"line","color":"#ef4f61","strokeWidth":1.1,"clip":true},"encoding":{}}
 ]},
{"width":123.5,"height":53.3,"encoding":{"x":{"field":"x","type":"quantitative","scale":{"domain":[25.7,61.2],"nice":false,"zero":false},"axis":null},"y":{"field":"y","type":"quantitative","scale":{"domain":[3.78,5.04],"nice":false,"zero":false},"axis":null}},
 "layer":[
 {"data":{"name":"pts"},"transform":[{"filter":"datum.p=='62'"}],"mark":{"type":"circle","size":7,"color":"#444","opacity":0.9}},
 {"data":{"name":"sm"},"transform":[{"filter":"datum.p=='62'"}],"mark":{"type":"line","color":"#ef4f61","strokeWidth":1.1,"clip":true},"encoding":{}}
 ]},
{"width":123.5,"height":53.3,"encoding":{"x":{"field":"x","type":"quantitative","scale":{"domain":[27.7,67.4],"nice":false,"zero":false},"axis":{"orient":"bottom","values":[30,40,50,60],"title":null}},"y":{"field":"y","type":"quantitative","scale":{"domain":[3.78,5.04],"nice":false,"zero":false},"axis":null}},
 "layer":[
 {"data":{"name":"pts"},"transform":[{"filter":"datum.p=='63'"}],"mark":{"type":"circle","size":7,"color":"#444","opacity":0.9}},
 {"data":{"name":"sm"},"transform":[{"filter":"datum.p=='63'"}],"mark":{"type":"line","color":"#ef4f61","strokeWidth":1.1,"clip":true},"encoding":{}}
 ]},
{"width":123.5,"height":53.3,"encoding":{"x":{"field":"x","type":"quantitative","scale":{"domain":[30,59.2],"nice":false,"zero":false},"axis":null},"y":{"field":"y","type":"quantitative","scale":{"domain":[3.78,5.04],"nice":false,"zero":false},"axis":null}},
 "layer":[
 {"data":{"name":"pts"},"transform":[{"filter":"datum.p=='64'"}],"mark":{"type":"circle","size":7,"color":"#444","opacity":0.9}},
 {"data":{"name":"sm"},"transform":[{"filter":"datum.p=='64'"}],"mark":{"type":"line","color":"#ef4f61","strokeWidth":1.1,"clip":true},"encoding":{}}
 ]},
{"width":123.5,"height":53.3,"encoding":{"x":{"field":"x","type":"quantitative","scale":{"domain":[15.8,48.4],"nice":false,"zero":false},"axis":{"orient":"bottom","values":[20,25,30,35,40,45],"title":null}},"y":{"field":"y","type":"quantitative","scale":{"domain":[3.78,5.04],"nice":false,"zero":false},"axis":null}},
 "layer":[
 {"data":{"name":"pts"},"transform":[{"filter":"datum.p=='65'"}],"mark":{"type":"circle","size":7,"color":"#444","opacity":0.9}},
 {"data":{"name":"sm"},"transform":[{"filter":"datum.p=='65'"}],"mark":{"type":"line","color":"#ef4f61","strokeWidth":1.1,"clip":true},"encoding":{}}
 ]},
{"width":123.5,"height":53.3,"encoding":{"x":{"field":"x","type":"quantitative","scale":{"domain":[3.78,5.04],"nice":false,"zero":false},"axis":null},"y":{"field":"y","type":"quantitative","scale":{"domain":[-0.02,1],"nice":false,"zero":false},"axis":null}},
 "layer":[
 {"data":{"name":"bars"},"transform":[{"filter":"datum.p=='66'"}],"mark":{"type":"rect","fill":"#d3d3d3","stroke":"#4d4d4d","strokeWidth":1},"encoding":{"x2":{"field":"x2"},"y2":{"datum":0}}},
 {"data":{"name":"names"},"transform":[{"filter":"datum.p=='66'"}],"mark":{"type":"text","fontSize":10.5,"color":"#333"},"encoding":{"text":{"field":"name"}}},
 {"data":{"name":"dens"},"transform":[{"filter":"datum.p=='66'"}],"mark":{"type":"line","color":"#ef4f61","strokeWidth":1.1,"interpolate":"monotone","clip":true},"encoding":{}}
 ]}
]
}
